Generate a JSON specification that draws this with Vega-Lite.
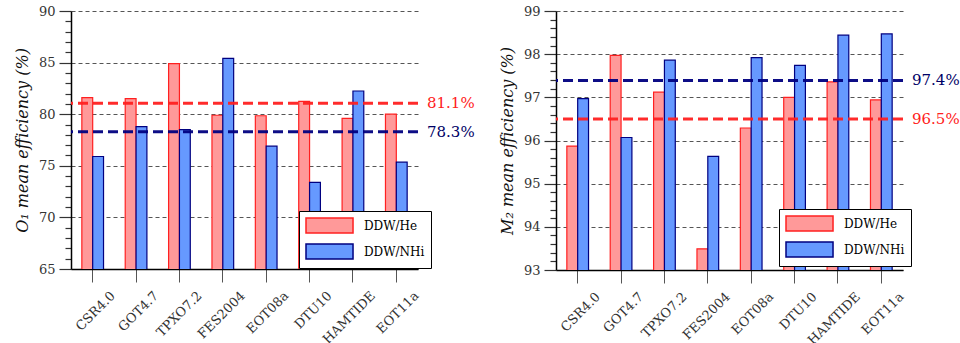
{
  "$schema": "https://vega.github.io/schema/vega-lite/v6.json",
  "padding": {"left": 14, "top": 5, "right": 5, "bottom": 5},
  "background": "white",
  "config": {
    "font": "DejaVu Serif",
    "view": {"stroke": null},
    "axis": {"labelFont": "DejaVu Serif", "titleFont": "DejaVu Serif", "labelColor": "#333", "titleColor": "#111"},
    "legend": {"labelFont": "DejaVu Serif"}
  },
  "datasets": {
    "o1": [
      {"model": "CSR4.0", "series": "DDW/He", "value": 81.6},
      {"model": "CSR4.0", "series": "DDW/NHi", "value": 75.9},
      {"model": "GOT4.7", "series": "DDW/He", "value": 81.5},
      {"model": "GOT4.7", "series": "DDW/NHi", "value": 78.8},
      {"model": "TPXO7.2", "series": "DDW/He", "value": 84.9},
      {"model": "TPXO7.2", "series": "DDW/NHi", "value": 78.5},
      {"model": "FES2004", "series": "DDW/He", "value": 79.9},
      {"model": "FES2004", "series": "DDW/NHi", "value": 85.4},
      {"model": "EOT08a", "series": "DDW/He", "value": 79.85},
      {"model": "EOT08a", "series": "DDW/NHi", "value": 76.9},
      {"model": "DTU10", "series": "DDW/He", "value": 81.25},
      {"model": "DTU10", "series": "DDW/NHi", "value": 73.4},
      {"model": "HAMTIDE", "series": "DDW/He", "value": 79.6},
      {"model": "HAMTIDE", "series": "DDW/NHi", "value": 82.25},
      {"model": "EOT11a", "series": "DDW/He", "value": 80.0},
      {"model": "EOT11a", "series": "DDW/NHi", "value": 75.35}
    ],
    "m2": [
      {"model": "CSR4.0", "series": "DDW/He", "value": 95.87},
      {"model": "CSR4.0", "series": "DDW/NHi", "value": 96.97},
      {"model": "GOT4.7", "series": "DDW/He", "value": 97.97},
      {"model": "GOT4.7", "series": "DDW/NHi", "value": 96.07},
      {"model": "TPXO7.2", "series": "DDW/He", "value": 97.12},
      {"model": "TPXO7.2", "series": "DDW/NHi", "value": 97.86},
      {"model": "FES2004", "series": "DDW/He", "value": 93.49},
      {"model": "FES2004", "series": "DDW/NHi", "value": 95.63},
      {"model": "EOT08a", "series": "DDW/He", "value": 96.29},
      {"model": "EOT08a", "series": "DDW/NHi", "value": 97.92},
      {"model": "DTU10", "series": "DDW/He", "value": 97.0},
      {"model": "DTU10", "series": "DDW/NHi", "value": 97.74},
      {"model": "HAMTIDE", "series": "DDW/He", "value": 97.36},
      {"model": "HAMTIDE", "series": "DDW/NHi", "value": 98.44},
      {"model": "EOT11a", "series": "DDW/He", "value": 96.94},
      {"model": "EOT11a", "series": "DDW/NHi", "value": 98.47}
    ],
    "o1mean": [
      {"series": "DDW/He", "value": 81.07, "label": "81.1%"},
      {"series": "DDW/NHi", "value": 78.29, "label": "78.3%"}
    ],
    "m2mean": [
      {"series": "DDW/He", "value": 96.5, "label": "96.5%"},
      {"series": "DDW/NHi", "value": 97.39, "label": "97.4%"}
    ]
  },
  "bounds": "flush",
  "spacing": 138,
  "resolve": {
    "scale": {"y": "independent"},
    "axis": {"y": "independent"},
    "legend": {"color": "independent", "stroke": "independent"}
  },
  "hconcat": [
    {
      "width": 347,
      "height": 258,
      "layer": [
        {
          "data": {"name": "o1"},
          "mark": {"type": "bar", "strokeWidth": 1.2, "clip": true},
          "encoding": {
            "x": {
              "field": "model", "type": "nominal",
              "sort": ["CSR4.0", "GOT4.7", "TPXO7.2", "FES2004", "EOT08a", "DTU10", "HAMTIDE", "EOT11a"],
              "scale": {"paddingInner": 0.5, "paddingOuter": 0.25},
              "axis": {"title": null, "labelAngle": -45, "labelAlign": "right", "labelBaseline": "top", "labelOffset": 16, "labelPadding": 7, "tickSize": 13, "tickColor": "#555", "domainColor": "#000", "domainWidth": 1.5, "labelFontSize": 13, "labelOverlap": false}
            },
            "xOffset": {"field": "series", "type": "nominal", "sort": ["DDW/He", "DDW/NHi"]},
            "y": {
              "field": "value", "type": "quantitative",
              "scale": {"domain": [65, 90], "zero": false, "nice": false},
              "axis": {
                "values": [65,66,67,68,69,70,71,72,73,74,75,76,77,78,79,80,81,82,83,84,85,86,87,88,89,90],
                "tickCount": 200,
                "labelOverlap": false,
                "labelExpr": "datum.value % 5 === 0 ? format(datum.value, 'd') : ''",
                "tickSize": 12,
                "tickDash": {"condition": {"test": "datum.value % 5 === 0", "value": [20, 0]}, "value": [6, 20]},
                "gridOpacity": {"condition": {"test": "datum.value % 5 === 0", "value": 1}, "value": 0},
                "grid": true, "gridDash": [4, 3], "gridColor": "#555",
                "domainColor": "#000", "domainWidth": 1.5, "tickColor": "#333", "tickWidth": 1.2,
                "labelPadding": 4, "labelFontSize": 13,
                "title": "O₁ mean efficiency (%)", "titleFontStyle": "italic", "titleFontWeight": "normal", "titleFontSize": 16, "titlePadding": 8
              }
            },
            "color": {
              "field": "series", "type": "nominal",
              "scale": {"domain": ["DDW/He", "DDW/NHi"], "range": ["#FF9999", "#6699FF"]},
              "legend": {"title": null, "orient": "none", "legendX": 228, "legendY": 200, "symbolType": "M-1,-1H5.27V1H-1Z", "symbolSize": 225, "symbolStrokeWidth": 1.5, "labelFontSize": 12, "labelFont": "DejaVu Serif", "labelOffset": 42, "padding": 6, "rowPadding": 5, "strokeColor": "#000", "fillColor": "#fff", "labelColor": "#000"}
            },
            "stroke": {
              "field": "series", "type": "nominal",
              "scale": {"domain": ["DDW/He", "DDW/NHi"], "range": ["#FF2020", "#000080"]},
              "legend": {"title": null, "orient": "none", "legendX": 228, "legendY": 200, "symbolType": "M-1,-1H5.27V1H-1Z", "symbolSize": 225, "symbolStrokeWidth": 1.5, "labelFontSize": 12, "labelFont": "DejaVu Serif", "labelOffset": 42, "padding": 6, "rowPadding": 5, "strokeColor": "#000", "fillColor": "#fff", "labelColor": "#000"}
            }
          }
        },
        {
          "data": {"name": "o1mean"},
          "mark": {"type": "rule", "strokeWidth": 3, "strokeDash": [10, 5], "opacity": 0.95},
          "encoding": {
            "y": {"field": "value", "type": "quantitative"},
            "stroke": {"field": "series", "type": "nominal", "legend": null}
          }
        },
        {
          "data": {"name": "o1mean"},
          "mark": {"type": "text", "x": "width", "dx": 9, "align": "left", "baseline": "middle", "fontSize": 15, "font": "DejaVu Serif"},
          "encoding": {
            "y": {"field": "value", "type": "quantitative"},
            "text": {"field": "label"},
            "fill": {"field": "series", "type": "nominal", "scale": {"domain": ["DDW/He", "DDW/NHi"], "range": ["#FF2020", "#000066"]}, "legend": null}
          }
        }
      ]
    },
    {
      "width": 347,
      "height": 259,
      "layer": [
        {
          "data": {"name": "m2"},
          "mark": {"type": "bar", "strokeWidth": 1.2, "clip": true},
          "encoding": {
            "x": {
              "field": "model", "type": "nominal",
              "sort": ["CSR4.0", "GOT4.7", "TPXO7.2", "FES2004", "EOT08a", "DTU10", "HAMTIDE", "EOT11a"],
              "scale": {"paddingInner": 0.5, "paddingOuter": 0.25},
              "axis": {"title": null, "labelAngle": -45, "labelAlign": "right", "labelBaseline": "top", "labelOffset": 16, "labelPadding": 7, "tickSize": 13, "tickColor": "#555", "domainColor": "#000", "domainWidth": 1.5, "labelFontSize": 13, "labelOverlap": false}
            },
            "xOffset": {"field": "series", "type": "nominal", "sort": ["DDW/He", "DDW/NHi"]},
            "y": {
              "field": "value", "type": "quantitative",
              "scale": {"domain": [93, 99], "zero": false, "nice": false},
              "axis": {
                "values": [93,93.2,93.4,93.6,93.8,94,94.2,94.4,94.6,94.8,95,95.2,95.4,95.6,95.8,96,96.2,96.4,96.6,96.8,97,97.2,97.4,97.6,97.8,98,98.2,98.4,98.6,98.8,99],
                "tickCount": 200,
                "labelOverlap": false,
                "labelExpr": "abs(datum.value - round(datum.value)) < 0.001 ? format(datum.value, 'd') : ''",
                "tickSize": 12,
                "tickDash": {"condition": {"test": "abs(datum.value - round(datum.value)) < 0.001", "value": [20, 0]}, "value": [6, 20]},
                "gridOpacity": {"condition": {"test": "abs(datum.value - round(datum.value)) < 0.001", "value": 1}, "value": 0},
                "grid": true, "gridDash": [4, 3], "gridColor": "#555",
                "domainColor": "#000", "domainWidth": 1.5, "tickColor": "#333", "tickWidth": 1.2,
                "labelPadding": 4, "labelFontSize": 13,
                "title": "M₂ mean efficiency (%)", "titleFontStyle": "italic", "titleFontWeight": "normal", "titleFontSize": 16, "titlePadding": 8
              }
            },
            "color": {
              "field": "series", "type": "nominal",
              "scale": {"domain": ["DDW/He", "DDW/NHi"], "range": ["#FF9999", "#6699FF"]},
              "legend": {"title": null, "orient": "none", "legendX": 223, "legendY": 198, "symbolType": "M-1,-1H5.27V1H-1Z", "symbolSize": 225, "symbolStrokeWidth": 1.5, "labelFontSize": 12, "labelFont": "DejaVu Serif", "labelOffset": 42, "padding": 6, "rowPadding": 5, "strokeColor": "#000", "fillColor": "#fff", "labelColor": "#000"}
            },
            "stroke": {
              "field": "series", "type": "nominal",
              "scale": {"domain": ["DDW/He", "DDW/NHi"], "range": ["#FF2020", "#000080"]},
              "legend": {"title": null, "orient": "none", "legendX": 223, "legendY": 198, "symbolType": "M-1,-1H5.27V1H-1Z", "symbolSize": 225, "symbolStrokeWidth": 1.5, "labelFontSize": 12, "labelFont": "DejaVu Serif", "labelOffset": 42, "padding": 6, "rowPadding": 5, "strokeColor": "#000", "fillColor": "#fff", "labelColor": "#000"}
            }
          }
        },
        {
          "data": {"name": "m2mean"},
          "mark": {"type": "rule", "strokeWidth": 3, "strokeDash": [10, 5], "opacity": 0.95},
          "encoding": {
            "y": {"field": "value", "type": "quantitative"},
            "stroke": {"field": "series", "type": "nominal", "legend": null}
          }
        },
        {
          "data": {"name": "m2mean"},
          "mark": {"type": "text", "x": "width", "dx": 9, "align": "left", "baseline": "middle", "fontSize": 15, "font": "DejaVu Serif"},
          "encoding": {
            "y": {"field": "value", "type": "quantitative"},
            "text": {"field": "label"},
            "fill": {"field": "series", "type": "nominal", "scale": {"domain": ["DDW/He", "DDW/NHi"], "range": ["#FF2020", "#000066"]}, "legend": null}
          }
        }
      ]
    }
  ]
}
